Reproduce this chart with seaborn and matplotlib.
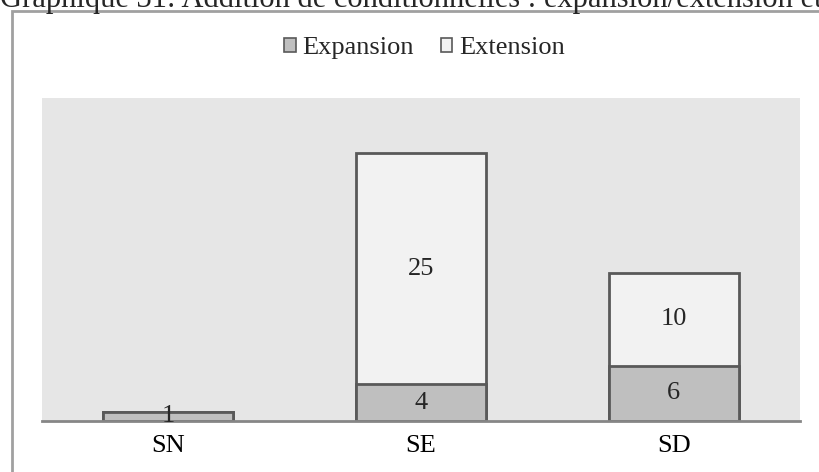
import numpy as np
import pandas as pd
import seaborn as sns
import matplotlib.pyplot as plt
from matplotlib.patches import Patch, Rectangle

# Données
categories = ['SN', 'SE', 'SD']
expansion = np.array([1, 4, 6])
extension = np.array([0, 25, 10])
series_names = ['Expansion', 'Extension']
title = 'Graphique 31: Addition de conditionnelles : expansion/extension et types'

col_exp = '#bfbfbf'
col_ext = '#f2f2f2'
edge = '#595959'
fs = 19

sns.set_theme(style='white')
plt.rcParams['font.family'] = ['Liberation Serif', 'DejaVu Serif']

df = pd.DataFrame({'cat': categories, 'expansion': expansion,
                   'total': expansion + extension})

fig = plt.figure(figsize=(8.19, 4.72), dpi=100)
ax = fig.add_axes([42 / 819, 51 / 472, 758 / 819, 323 / 472])

# barres empilées : total (extension) puis expansion par-dessus
sns.barplot(data=df, x='cat', y='total', color=col_ext, width=0.515,
            edgecolor=edge, linewidth=2, saturation=1, ax=ax)
sns.barplot(data=df, x='cat', y='expansion', color=col_exp, width=0.515,
            edgecolor=edge, linewidth=2, saturation=1, ax=ax)

for i in range(len(categories)):
    ax.text(i, expansion[i] / 2, str(expansion[i]), ha='center', va='center', fontsize=fs)
    if extension[i] > 0:
        ax.text(i, expansion[i] + extension[i] / 2, str(extension[i]),
                ha='center', va='center', fontsize=fs)

ax.set_ylim(0, 35)
ax.set_facecolor('#e6e6e6')
ax.set_xlabel('')
ax.set_ylabel('')
ax.set_yticks([])
for s in ['top', 'right', 'left']:
    ax.spines[s].set_visible(False)
ax.spines['bottom'].set_color('#868686')
ax.spines['bottom'].set_linewidth(2)
ax.tick_params(axis='x', length=0, pad=10, labelsize=fs, colors='black')

handles = [Patch(facecolor=col_exp, edgecolor=edge, linewidth=1.2),
           Patch(facecolor=col_ext, edgecolor=edge, linewidth=1.2)]
fig.legend(handles, series_names, loc='center', bbox_to_anchor=(424.5 / 819, 1 - 48 / 472),
           ncol=2, frameon=False, fontsize=fs, handlelength=0.45, handleheight=0.45,
           handletextpad=0.27, columnspacing=1.0, borderpad=0.2)

# cadre du graphique (coupé à droite et en bas)
fig.patches.append(Rectangle((12 / 819, -0.1), 1.0, 1 - 11 / 472 + 0.1,
                             transform=fig.transFigure, fill=False,
                             edgecolor='#a0a0a0', linewidth=2))

fig.text(0.0, 1 - 7 / 472, title, ha='left', va='baseline', fontsize=22)

fig.savefig('out.png', dpi=100)
